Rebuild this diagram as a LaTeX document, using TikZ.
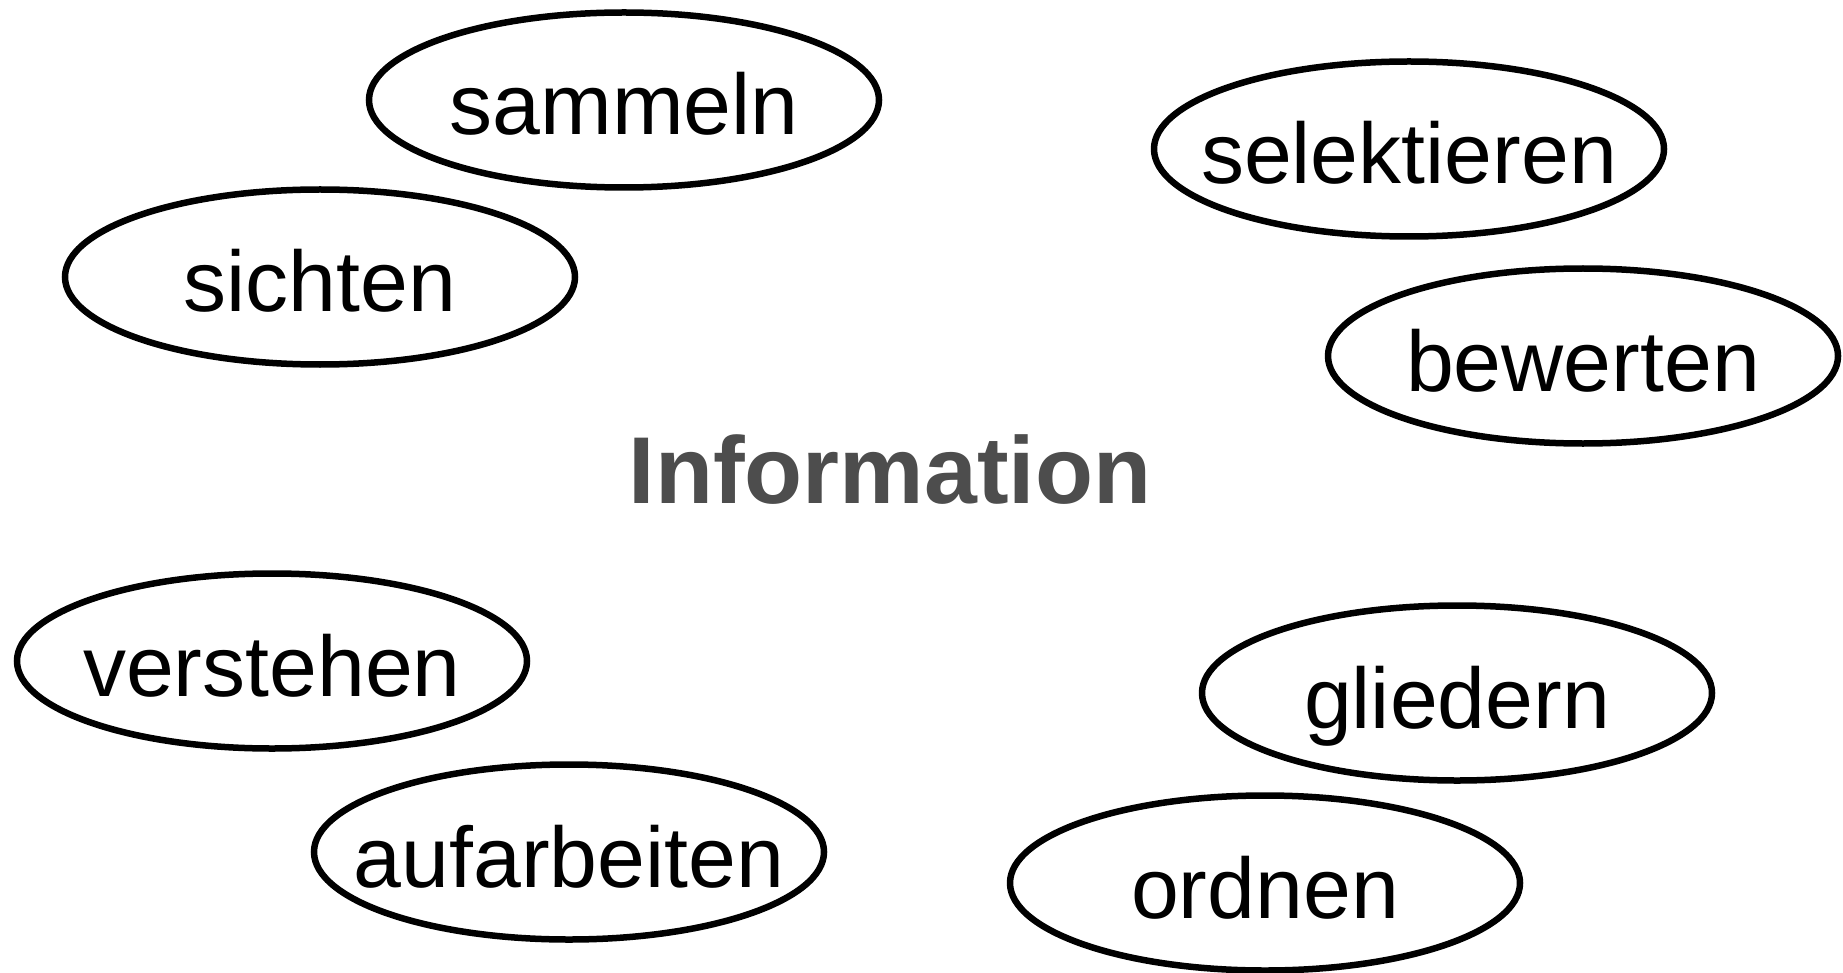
\documentclass[tikz,border=0pt]{standalone}
\usepackage{fontspec}
\setmainfont{Liberation Sans}
\usetikzlibrary{shapes.geometric}
\definecolor{infogray}{HTML}{4D4D4D}
\begin{document}
\begin{tikzpicture}[x=1pt,y=-1pt,
  oval/.style={ellipse, draw=black, line width=6.5pt, minimum width=510pt,
    minimum height=175pt, inner xsep=-300pt, inner ysep=-100pt,
    font=\fontsize{86}{90}\selectfont, text height=70pt, text depth=0pt},
  titletext/.style={font=\fontsize{95}{100}\selectfont\bfseries, text=infogray,
    inner sep=0pt, text height=72pt, text depth=0pt}]
\useasboundingbox (0,0) rectangle (1843,973);
\node[oval] (sammeln) at (624,100) {sammeln};
\node[oval] (sichten) at (320,277) {sichten};
\node[oval] (selektieren) at (1409,149) {selektieren};
\node[oval] (bewerten) at (1583,356) {bewerten};
\node[oval] (verstehen) at (272,661) {verstehen};
\node[oval] (aufarbeiten) at (569,852) {aufarbeiten};
\node[oval] (gliedern) at (1457,693) {gliedern};
\node[oval] (ordnen) at (1265,883) {ordnen};
\node[titletext] (info) at (890,467) {Information};
\end{tikzpicture}
\end{document}
